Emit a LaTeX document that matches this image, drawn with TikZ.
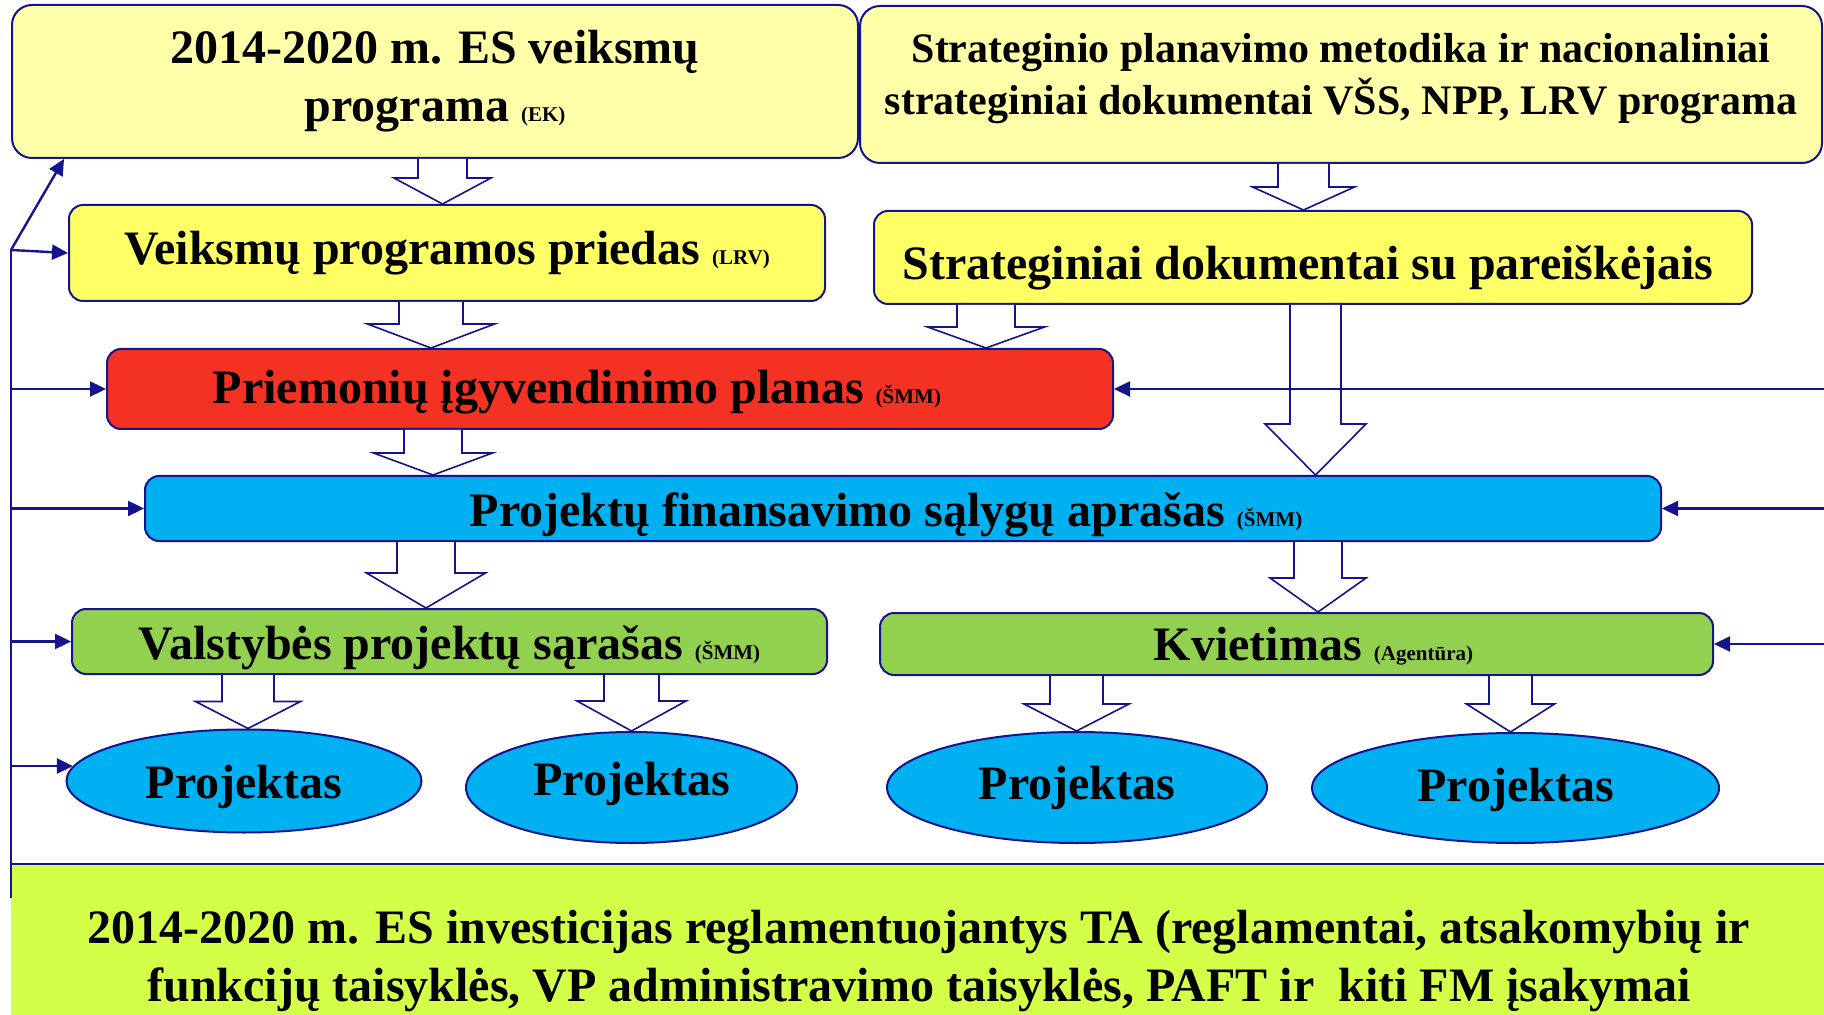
\documentclass[tikz,border=0pt]{standalone}
\usepackage{fontspec}
\setmainfont{Liberation Serif}
\usetikzlibrary{arrows.meta,calc,shapes.geometric}
\definecolor{navy}{RGB}{20,20,140}
\definecolor{paleY}{RGB}{255,255,170}
\definecolor{yel}{RGB}{255,255,102}
\definecolor{redb}{RGB}{244,50,36}
\definecolor{blueb}{RGB}{0,176,240}
\definecolor{greenb}{RGB}{146,208,80}
\definecolor{limeb}{RGB}{212,255,72}
\newcommand{\sm}[1]{{\fontsize{10.5}{12}\selectfont #1}}
\newcommand{\dn}[2]{\raisebox{-#1}[\height][\depth]{#2}}
\tikzset{
  box/.style={draw=navy, line width=1pt, rounded corners=7pt, inner sep=0pt,
    font=\bfseries\fontsize{24}{29}\selectfont, align=center},
  oval/.style={ellipse, draw=navy, line width=1pt, fill=blueb, inner sep=0pt,
    font=\bfseries\fontsize{24}{29}\selectfont},
  thinarr/.style={draw=navy, line width=1.2pt, -{Triangle[length=8pt,width=7.5pt]}},
  thinline/.style={draw=navy, line width=1.2pt},
  blk/.style={draw=navy, line width=0.8pt, fill=white, line join=miter}
}
% #1 x, #2 source anchor, #3 target anchor, #4 shaft half width, #5 head half width, #6 head length
\newcommand{\blockarr}[6]{%
  \path (#1,0 |- #2) coordinate (bs) (#1,0 |- #3) coordinate (bt);
  \draw[blk] ($(bs)+(-#4,0)$) -- ($(bt)+(-#4,-#6)$) -- ($(bt)+(-#5,-#6)$) -- (bt)
     -- ($(bt)+(#5,-#6)$) -- ($(bt)+(#4,-#6)$) -- ($(bs)+(#4,0)$);
}
\begin{document}
\begin{tikzpicture}[x=0.5pt,y=-0.5pt]
\useasboundingbox (0,0) rectangle (1824,1015);
\fill[white] (0,0) rectangle (1824,1015);

% bottom band
\fill[limeb] (11,864) rectangle (1830,1030);
\draw[thinline] (11,864) -- (1830,864);
\node[font=\bfseries\fontsize{24}{29}\selectfont, align=center, inner sep=0pt] (tb) at (919,961)
  {2014-2020 m. ES investicijas reglamentuojantys TA (reglamentai, atsakomybių ir\\
   funkcijų taisyklės, VP administravimo taisyklės, PAFT ir\ \ kiti FM įsakymai};

% boxes
\node[box, fill=paleY, rounded corners=10pt, minimum width=423pt, minimum height=76.5pt] (b1) at (435,81.5)
  {2014-2020 m. ES veiksmų\\programa \sm{(EK)}};
\node[box, fill=paleY, rounded corners=10pt, minimum width=481pt, minimum height=78.5pt,
  font=\bfseries\fontsize{21}{26}\selectfont] (b2) at (1341,84.5)
  {\raisebox{3pt}[\height][\depth]{\begin{tabular}{@{}c@{}}Strateginio planavimo metodika ir nacionaliniai\\strateginiai dokumentai VŠS, NPP, LRV programa\end{tabular}}};
\node[box, fill=yel, minimum width=378pt, minimum height=48pt] (b3) at (447,253)
  {Veiksmų programos priedas \sm{(LRV)}};
\node[box, fill=yel, minimum width=439pt, minimum height=46.5pt] (b4) at (1313,257.5)
  {\dn{5pt}{Strateginiai dokumentai su pareiškėjais}\hspace*{5pt}};
\node[box, fill=redb, minimum width=503pt, minimum height=40pt] (red) at (610,389)
  {\dn{1.75pt}{Priemonių įgyvendinimo planas \sm{(ŠMM)}}\hspace*{33pt}};
\node[box, fill=blueb, minimum width=758pt, minimum height=32.5pt] (blue) at (903,508.5)
  {\dn{3pt}{Projektų finansavimo sąlygų aprašas \sm{(ŠMM)}}\hspace*{17pt}};
\node[box, fill=greenb, minimum width=377.5pt, minimum height=32.5pt] (g1) at (449.5,641.5)
  {\dn{3pt}{Valstybės projektų sąrašas \sm{(ŠMM)}}};
\node[box, fill=greenb, minimum width=416.5pt, minimum height=31pt] (kv) at (1296.5,644)
  {\hspace*{17pt}\dn{1pt}{Kvietimas \sm{(Agentūra)}}};

% ellipses
\node[oval, minimum width=177.5pt, minimum height=51.5pt] (e1) at (244,781) {\dn{3pt}{Projektas}};
\node[oval, minimum width=165.5pt, minimum height=55.5pt] (e2) at (631.5,787.5) {\dn{-1.75pt}{Projektas}};
\node[oval, minimum width=190pt, minimum height=55.5pt] (e3) at (1077,787.5) {Projektas};
\node[oval, minimum width=203.5pt, minimum height=55pt] (e4) at (1515.5,788) {\dn{1pt}{Projektas}};

% block arrows
\blockarr{442.5}{b1.south}{b3.north}{24.5}{48.5}{26}
\blockarr{1303.5}{b2.south}{b4.north}{25.5}{51}{23}
\blockarr{431}{b3.south}{red.north}{32}{63.5}{24}
\blockarr{986}{b4.south}{red.north}{29}{58.5}{21}
\blockarr{1315.5}{b4.south}{blue.north}{25.5}{50.5}{51}
\blockarr{433}{red.south}{blue.north}{29}{59.5}{22}
\blockarr{426}{blue.south}{g1.north}{29}{59.5}{35}
\blockarr{1318}{blue.south}{kv.north}{24}{48}{34}
\blockarr{248}{g1.south}{e1.north}{26}{52.5}{27}
\blockarr{631.5}{g1.south}{e2.north}{27.5}{54.5}{30}
\blockarr{1076.5}{kv.south}{e3.north}{26.5}{52.5}{27}
\blockarr{1510.5}{kv.south}{e4.north}{21.5}{44}{28}

% left feedback lines
\coordinate (L0) at (11,250);
\coordinate (Lb) at (11,898);
\coordinate (R0) at (1826,0);
\draw[thinline] (Lb) -- (L0);
\draw[thinarr] (L0) -- (64,0 |- b1.south);
\draw[thinarr] (L0) -- (b3.west);
\draw[thinarr] (L0 |- red.west) -- (red.west);
\draw[thinarr] (L0 |- blue.west) -- (blue.west);
\draw[thinarr] (L0 |- g1.west) -- (g1.west);
\draw[thinarr] (L0 |- e1.175) -- (e1.175);

% right feedback lines
\draw[thinarr] (R0 |- red.east) -- (red.east);
\draw[thinarr] (R0 |- blue.east) -- (blue.east);
\draw[thinarr] (R0 |- kv.east) -- (kv.east);
\end{tikzpicture}
\end{document}
